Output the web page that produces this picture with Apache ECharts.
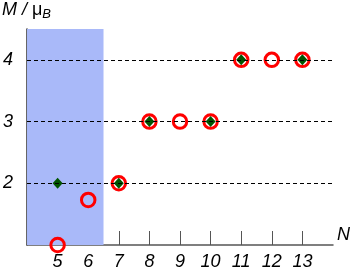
<!DOCTYPE html>
<html><head><meta charset="utf-8">
<script src="https://cdn.jsdelivr.net/npm/echarts@6/dist/echarts.min.js"></script>
<style>html,body{margin:0;padding:0;background:#fff}#c{width:354px;height:276px}</style>
</head><body><div id="c"></div>
<script>
const xTicks = [5, 6, 7, 8, 9, 10, 11, 12, 13];
const yTicks = [2, 3, 4];
const circleN = [5, 6, 7, 8, 9, 10, 11, 12, 13];
const circleM = [1, 1.73, 2, 3, 3, 3, 4, 4, 4];
const diamondN = [5, 7, 8, 10, 11, 13];
const diamondM = [2, 2, 3, 3, 4, 4];
const shadeRange = [4, 6.5];

const font = 'Liberation Sans, Arial, sans-serif';
const chart = echarts.init(document.getElementById('c'), null, {renderer: 'canvas'});
chart.setOption({
  animation: false,
  grid: {left: 27, right: 21, top: 29, bottom: 31},
  xAxis: {
    type: 'value', min: 4, max: 14, interval: 1,
    axisLine: {show: true, onZero: false, lineStyle: {color: '#555', width: 1.5}},
    axisTick: {show: true, inside: true, length: 14, customValues: xTicks, lineStyle: {color: '#555', width: 1}},
    axisLabel: {customValues: xTicks, margin: 8, fontSize: 18, fontStyle: 'italic', fontFamily: font, color: '#000'},
    splitLine: {show: false}
  },
  yAxis: {
    type: 'value', min: 1, max: 4.5,
    axisLine: {show: true, onZero: false, lineStyle: {color: '#333', width: 1.5}},
    axisTick: {show: false},
    axisLabel: {customValues: yTicks, margin: 14, fontSize: 18, fontStyle: 'italic', fontFamily: font, color: '#000'},
    splitLine: {show: false}
  },
  graphic: [
    {type: 'text', left: 2, top: 1, style: {
      text: '{m|M / }{mu|μ}{b|B}',
      rich: {
        m: {fontSize: 18, fontStyle: 'italic', fontFamily: font, fill: '#000'},
        mu: {fontSize: 18, fontFamily: font, fill: '#000'},
        b: {fontSize: 13, fontStyle: 'italic', fontFamily: font, fill: '#000', padding: [9, 0, 0, 0]}
      }
    }},
    {type: 'text', left: 337, top: 226, style: {text: 'N', fontSize: 18, fontStyle: 'italic', fontFamily: font, fill: '#000'}}
  ],
  series: [
    {
      type: 'scatter', data: [], z: 1,
      markArea: {silent: true, itemStyle: {color: '#a9b9f9'},
        data: [[{xAxis: shadeRange[0], yAxis: 1}, {xAxis: shadeRange[1], yAxis: 4.5}]]},
      markLine: {silent: true, symbol: ['none', 'none'], label: {show: false},
        lineStyle: {color: '#000', type: [4, 3], width: 1},
        data: yTicks.map(v => ({yAxis: v}))}
    },
    {
      type: 'scatter', z: 3, clip: false,
      symbol: 'circle', symbolSize: 13.5,
      itemStyle: {color: 'rgba(0,0,0,0)', borderColor: '#ff0000', borderWidth: 3, opacity: 1},
      data: circleN.map((n, i) => [n, circleM[i]])
    },
    {
      type: 'scatter', z: 4, clip: false,
      symbol: 'diamond', symbolSize: [10, 11],
      itemStyle: {color: '#005500', opacity: 1},
      data: diamondN.map((n, i) => [n, diamondM[i]])
    }
  ]
});
</script></body></html>
